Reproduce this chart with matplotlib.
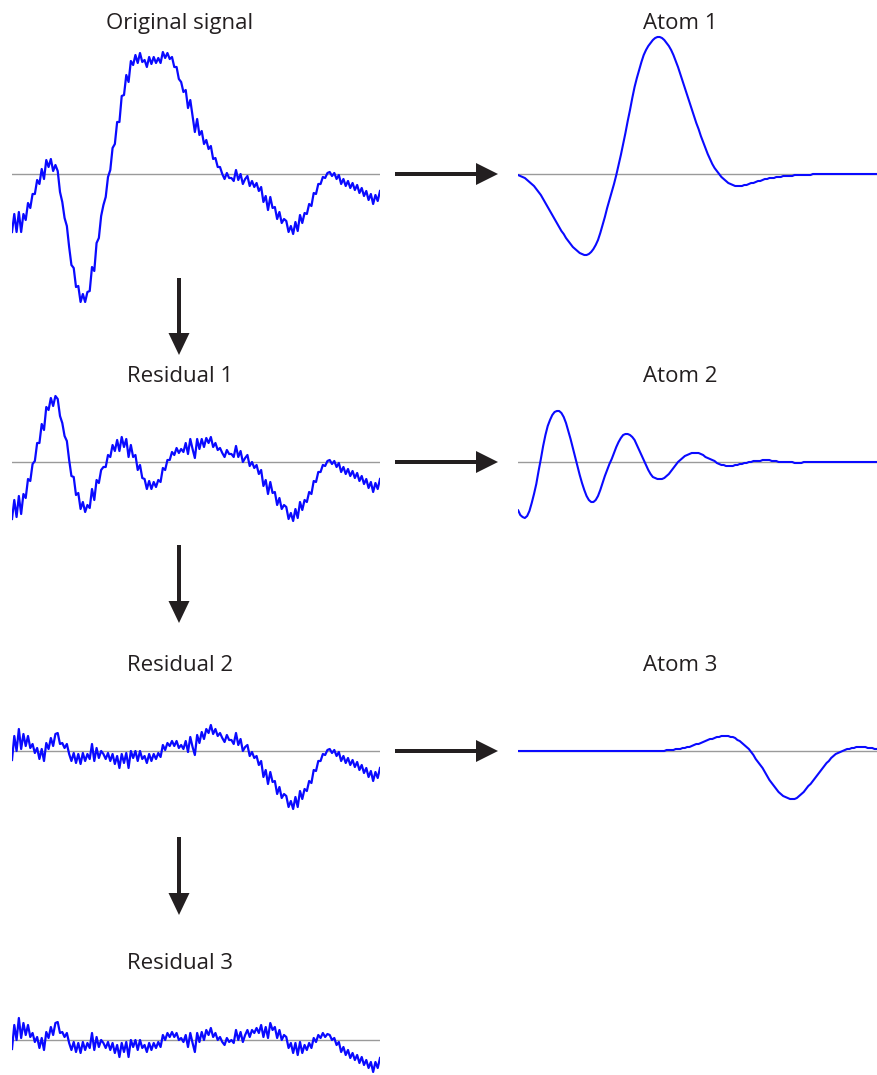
import numpy as np
import matplotlib
matplotlib.use("Agg")
import matplotlib.pyplot as plt
from matplotlib.patches import FancyArrow

# ---------------- data (amplitudes in common units) ----------------
residual3 = [
    -9, 15, 0, 22, 2, 17, 5, 15, 3, 7,
    -2, 3, -8, 2, -10, 8, 2, 13, 5, 17,
    18, 7, 8, 3, 7, -3, -10, -2, -12, -3,
    -13, -2, -10, -3, -8, 7, -10, 3, -7, 0,
    -3, -8, -2, -10, -3, -13, -5, -17, -3, -12,
    -2, -17, 0, -7, 0, -10, 0, -8, -5, -12,
    -3, -10, -3, -8, -2, -7, 5, 0, 7, 3,
    8, 3, 7, 0, 2, -2, 5, -7, 7, -3,
    -12, 7, -2, 8, 0, 10, 5, 12, 3, 7,
    0, 3, -2, -5, 2, -2, 0, -3, 10, 0,
    8, -2, 5, 10, 3, 10, 7, 12, 7, 15,
    3, 13, 2, 17, 10, 13, 2, 10, 0, 5,
    3, -8, -3, -13, -3, -15, -2, -13, -5, -10,
    -3, -8, 2, -2, 5, 2, 7, 3, 6, 5,
    0, 2, -5, -2, -12, -7, -15, -10, -18, -13,
    -20, -15, -23, -17, -25, -20, -28, -22, -32, -22,
    -28, -18]

atom1 = [
    -1, -2, -3, -4, -6, -8, -10, -12, -15, -18,
    -21, -25, -29, -33, -37, -41, -45, -49, -53, -57,
    -60, -64, -67, -70, -73, -75, -77, -79, -80, -81,
    -81, -80, -78, -75, -71, -66, -59, -51, -43, -34,
    -26, -18, -10, -1, 9, 19, 30, 41, 53, 64,
    76, 87, 96, 104, 112, 119, 124, 128, 131, 134,
    136, 137, 137, 136, 134, 131, 128, 124, 119, 113,
    107, 100, 93, 86, 79, 72, 65, 58, 51, 45,
    38, 32, 26, 20, 15, 10, 6, 3, 0, -3,
    -5, -7, -9, -10, -11, -12, -12, -12, -12, -11,
    -11, -10, -9, -9, -8, -7, -7, -6, -5, -5,
    -4, -4, -4, -3, -3, -3, -2, -2, -2, -2,
    -2, -1, -1, -1, -1, -1, -1, -1, -1, 0] + [0] * 32

atom2 = [
    -48, -53, -55, -56, -54, -49, -41, -32, -22, -9,
    3, 16, 27, 36, 42, 47, 50, 51, 51, 49,
    45, 39, 31, 23, 14, 5, -4, -13, -21, -28,
    -34, -38, -40, -40, -38, -34, -28, -21, -14, -8,
    -2, 3, 9, 15, 20, 24, 27, 28, 28, 27,
    25, 22, 17, 12, 7, 2, -3, -8, -12, -15,
    -16, -17, -17, -17, -16, -14, -12, -9, -6, -3,
    0, 2, 4, 6, 7, 8, 9, 9, 9, 9,
    8, 7, 5, 4, 3, 2, 1, -1, -2, -3,
    -3, -4, -4, -4, -4, -3, -3, -2, -2, -1,
    -1, 0, 0, 1, 1, 1, 1, 2, 2, 2,
    2, 1, 1, 1, 0, 0, 0, 0, 0, 0,
    0, -1, -1, -1, -1, 0, 0, 0, 0, 0] + [0] * 32

atom3 = [0] * 65 + [
    1, 1, 1, 1, 2,
    2, 2, 3, 3, 4, 4, 5, 6, 7, 7,
    8, 9, 10, 11, 12, 12, 13, 14, 14, 15,
    15, 15, 15, 14, 14, 13, 11, 10, 8, 6,
    4, 2, -1, -4, -8, -11, -14, -17, -21, -25,
    -29, -32, -35, -38, -41, -43, -45, -46, -47, -48,
    -48, -48, -47, -45, -43, -41, -38, -35, -33, -30,
    -27, -24, -21, -18, -15, -12, -10, -7, -5, -3,
    -2, -1, 0, 1, 2, 2, 3, 3, 4, 4,
    4, 4, 4, 3, 3, 3, 2, 2, 2, 1,
    1, 1]

left_titles = ["Original signal", "Residual 1", "Residual 2", "Residual 3"]
right_titles = ["Atom 1", "Atom 2", "Atom 3"]

# ---------------- derived signals ----------------
r3 = np.array(residual3, float)
a1 = np.array(atom1, float)
a2 = np.array(atom2, float)
a3 = np.array(atom3, float)
r2 = r3 + a3
r1 = r2 + a2
orig = r1 + a1
left_series = [orig, r1, r2, r3]
right_series = [a1, a2, a3]
n = len(r3)
t = np.arange(n)

# ---------------- layout (pixels) ----------------
W, H = 877, 1075
fig = plt.figure(figsize=(W / 100, H / 100), dpi=100)
fig.patch.set_facecolor("white")

BLUE = "#0a0aff"
GRAY = "#9a9a9a"
DARK = "#231f20"
FONT = ["Open Sans", "DejaVu Sans"]

left_x0, panel_w = 12, 368
right_x0 = 518
baselines = [174, 462, 751, 1040]
title_base = [29, 382, 671, 969]
half = 150


def add_panel(x0, base):
    ax = fig.add_axes([x0 / W, (H - base - half) / H, panel_w / W, 2 * half / H])
    ax.set_xlim(0, n - 1)
    ax.set_ylim(-half, half)
    ax.axis("off")
    ax.axhline(0, color=GRAY, lw=1.0, zorder=1)
    return ax


for k, s in enumerate(left_series):
    ax = add_panel(left_x0, baselines[k])
    ax.plot(t, s, color=BLUE, lw=1.6, zorder=2, solid_joinstyle="round")

for k, s in enumerate(right_series):
    ax = add_panel(right_x0, baselines[k])
    ax.plot(t, s, color=BLUE, lw=1.5, zorder=2, solid_joinstyle="round",
            solid_capstyle="round")

# overlay in pixel coordinates for text and arrows
ov = fig.add_axes([0, 0, 1, 1], facecolor="none")
ov.set_xlim(0, W)
ov.set_ylim(H, 0)
ov.axis("off")

for k, lab in enumerate(left_titles):
    ov.text(180, title_base[k], lab, ha="center", va="baseline",
            fontsize=16, color=DARK, family=FONT)
for k, lab in enumerate(right_titles):
    ov.text(680, title_base[k], lab, ha="center", va="baseline",
            fontsize=16, color=DARK, family=FONT)

# horizontal arrows
for k in range(3):
    ov.add_patch(FancyArrow(395, baselines[k], 103, 0, width=4, head_width=22,
                            head_length=22, length_includes_head=True,
                            color=DARK, lw=0))
# vertical arrows
v_arrows = [(278, 355), (545, 623), (837, 915)]
for y0, y1 in v_arrows:
    ov.add_patch(FancyArrow(179, y0, 0, y1 - y0, width=4, head_width=21,
                            head_length=22, length_includes_head=True,
                            color=DARK, lw=0))

fig.savefig("out.png", dpi=100, facecolor="white")
